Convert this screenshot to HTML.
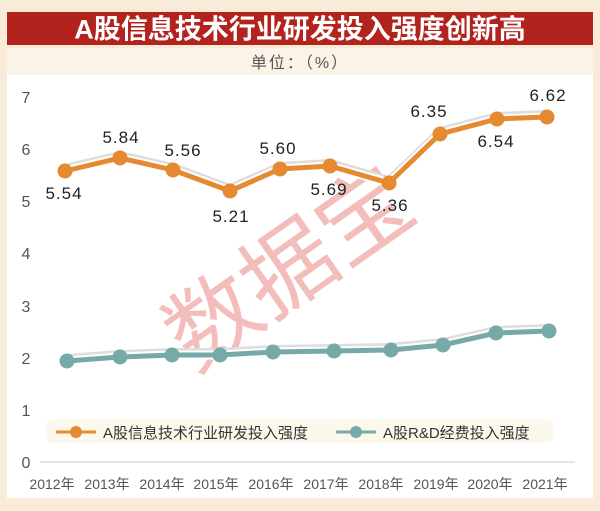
<!DOCTYPE html>
<html><head><meta charset="utf-8"><style>
html,body{margin:0;padding:0;background:#f8ecd8;}
svg{display:block;font-family:"Liberation Sans","Noto Sans CJK SC",sans-serif;}
</style></head><body>
<svg width="600" height="511" viewBox="0 0 600 511" xmlns="http://www.w3.org/2000/svg">
<rect width="600" height="511" fill="#f8ecd8"/>
<rect x="7" y="12" width="586" height="33" fill="#b3231e"/>
<text x="300" y="38.5" text-anchor="middle" font-size="27" font-weight="bold" fill="#fff">A股信息技术行业研发投入强度创新高</text>
<rect x="7" y="48" width="586" height="27" fill="#fbf3e7"/>
<text x="300" y="68" text-anchor="middle" font-size="16" fill="#555" letter-spacing="2">单位：（%）</text>
<rect x="7" y="75" width="586" height="423" fill="#ffffff"/>
<g font-size="16" fill="#555" text-anchor="middle">
<text x="26" y="103">7</text><text x="26" y="155">6</text><text x="26" y="207">5</text><text x="26" y="259">4</text><text x="26" y="312">3</text><text x="26" y="364">2</text><text x="26" y="416">1</text><text x="26" y="468">0</text>
</g>
<line x1="40" y1="462" x2="575" y2="462" stroke="#ddd" stroke-width="1.5"/>
<g font-size="14" fill="#555" text-anchor="middle">
<text x="52" y="489">2012年</text><text x="107" y="489">2013年</text><text x="162" y="489">2014年</text><text x="216" y="489">2015年</text><text x="271" y="489">2016年</text><text x="326" y="489">2017年</text><text x="381" y="489">2018年</text><text x="436" y="489">2019年</text><text x="490" y="489">2020年</text><text x="545" y="489">2021年</text>
</g>
<text x="290" y="300" text-anchor="middle" font-size="92" fill="#e05a55" fill-opacity="0.4" transform="rotate(-35 290 270)">数据宝</text>
<!-- teal -->
<polyline points="67,358 120,354 172,352 220,352 273,349 334,348 391,347 443,342 496,330 549,328" fill="none" stroke="#ddd" stroke-width="8" stroke-linejoin="round"/>
<polyline points="67,361 120,357 172,355 220,355 273,352 334,351 391,350 443,345 496,333 549,331" fill="none" stroke="#fff" stroke-width="9"/>
<polyline points="67,361 120,357 172,355 220,355 273,352 334,351 391,350 443,345 496,333 549,331" fill="none" stroke="#75aaa9" stroke-width="5"/>
<g fill="#75aaa9">
<circle cx="67" cy="361" r="7.5"/><circle cx="120" cy="357" r="7.5"/><circle cx="172" cy="355" r="7.5"/><circle cx="220" cy="355" r="7.5"/><circle cx="273" cy="352" r="7.5"/><circle cx="334" cy="351" r="7.5"/><circle cx="391" cy="350" r="7.5"/><circle cx="443" cy="345" r="7.5"/><circle cx="496" cy="333" r="7.5"/><circle cx="549" cy="331" r="7.5"/>
</g>
<!-- orange -->
<polyline points="65,168 120,155 173,167 230,188 280,166 330,163 389,180 440,131 497,116 547,114" fill="none" stroke="#ddd" stroke-width="8" stroke-linejoin="round"/>
<polyline points="65,171 120,158 173,170 230,191 280,169 330,166 389,183 440,134 497,119 547,117" fill="none" stroke="#fff" stroke-width="9"/>
<polyline points="65,171 120,158 173,170 230,191 280,169 330,166 389,183 440,134 497,119 547,117" fill="none" stroke="#e58a31" stroke-width="5"/>
<g fill="#e58a31">
<circle cx="65" cy="171" r="7.5"/><circle cx="120" cy="158" r="7.5"/><circle cx="173" cy="170" r="7.5"/><circle cx="230" cy="191" r="7.5"/><circle cx="280" cy="169" r="7.5"/><circle cx="330" cy="166" r="7.5"/><circle cx="389" cy="183" r="7.5"/><circle cx="440" cy="134" r="7.5"/><circle cx="497" cy="119" r="7.5"/><circle cx="547" cy="117" r="7.5"/>
</g>
<g font-size="17" fill="#222" text-anchor="middle" letter-spacing="1">
<text x="64" y="199">5.54</text><text x="121" y="143">5.84</text><text x="183" y="156">5.56</text><text x="231" y="222">5.21</text><text x="278" y="154">5.60</text><text x="329" y="195">5.69</text><text x="390" y="211">5.36</text><text x="429" y="117">6.35</text><text x="496" y="147">6.54</text><text x="548" y="101">6.62</text>
</g>
<!-- legend -->
<rect x="46" y="419" width="507" height="24" rx="6" fill="#fdf8ec"/>
<line x1="56" y1="432" x2="96" y2="432" stroke="#e58a31" stroke-width="3"/>
<circle cx="76" cy="432" r="6" fill="#e58a31"/>
<text x="103" y="438" font-size="15" fill="#333">A股信息技术行业研发投入强度</text>
<line x1="336" y1="432" x2="376" y2="432" stroke="#75aaa9" stroke-width="3"/>
<circle cx="356" cy="432" r="6" fill="#75aaa9"/>
<text x="383" y="438" font-size="15" fill="#333">A股R&amp;D经费投入强度</text>
</svg>
</body></html>
